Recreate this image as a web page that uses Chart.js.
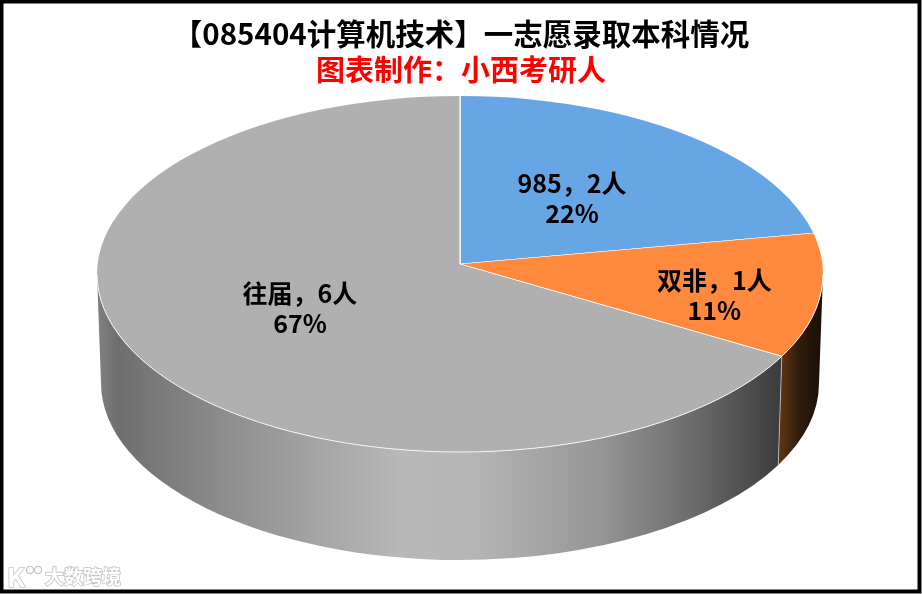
<!DOCTYPE html>
<html>
<head>
<meta charset="utf-8">
<style>
  html, body { margin: 0; padding: 0; background: #fff; }
  #wrap { position: relative; width: 922px; height: 594px; }
</style>
</head>
<body>
<div id="wrap"><canvas id="chart" width="922" height="594"></canvas></div>
<script src="https://cdn.jsdelivr.net/npm/chart.js@4/dist/chart.umd.min.js"></script>
<script>
const categories = ['985', '双非', '往届'];
const people = [2, 1, 6];
const sliceColors = ['#66a6e5', '#ff893d', '#b0b0b0'];
const titleText = '【085404计算机技术】一志愿录取本科情况';
const subtitleText = '图表制作：小西考研人';
const watermarkText = '大数跨境';

// place of each label along its slice's middle ray
const labelFractionX = [0.415, 0.615, 0.44];
const labelFractionY = [0.41, 0.86, 0.43];

// geometry of the tilted pie, px
const apex = { x: 460, y: 264 };
const topFace = { x: 460, y: 274, rx: 363, ry: 178 };
const bottomFace = { x: 460, y: 383, rx: 359, ry: 177 };
const outerRx = 420;
const tilt = 0.497;

// side wall shading, left to right
const wallStops = [
  null,
  [[781, '#5a3312'], [800, '#2e1b0b'], [822, '#1a0f06']],
  [[98, '#808080'], [118, '#6e6e6e'], [250, '#949494'], [400, '#b8b8b8'], [470, '#b6b6b6'], [600, '#969696'], [700, '#686868'], [780, '#3c3c3c']]
];

function rayToFace(angle) {
  const dx = Math.cos(angle);
  const dy = Math.sin(angle) * tilt;
  const ox = (apex.x - topFace.x) / topFace.rx;
  const oy = (apex.y - topFace.y) / topFace.ry;
  const ux = dx / topFace.rx;
  const uy = dy / topFace.ry;
  const a = ux * ux + uy * uy;
  const b = 2 * (ox * ux + oy * uy);
  const c = ox * ox + oy * oy - 1;
  const k = (-b + Math.sqrt(b * b - 4 * a * c)) / (2 * a);
  return Math.atan2(oy + k * uy, ox + k * ux);
}

const pie3d = {
  id: 'pie3d',
  beforeDraw(chart) {
    const ctx = chart.ctx;
    ctx.save();
    ctx.strokeStyle = '#000';
    ctx.lineWidth = 4;
    ctx.strokeRect(1.5, 1.5, 918, 590);
    ctx.restore();
  },
  beforeDatasetsDraw(chart) {
    const ctx = chart.ctx;
    const arcs = chart.getDatasetMeta(0).data;

    // side walls, only the front half of the rim shows
    arcs.forEach((arc, i) => {
      if (!wallStops[i]) return;
      const t0raw = rayToFace(arc.startAngle);
      let t1raw = rayToFace(arc.endAngle);
      if (t1raw <= t0raw) t1raw += Math.PI * 2;
      const t0 = Math.max(t0raw, 0);
      const t1 = Math.min(t1raw, Math.PI);
      if (t1 <= t0) return;
      const grad = ctx.createLinearGradient(98, 0, 823, 0);
      wallStops[i].forEach(s => grad.addColorStop((s[0] - 98) / 725, s[1]));
      ctx.save();
      ctx.beginPath();
      ctx.ellipse(topFace.x, topFace.y, topFace.rx, topFace.ry, 0, t0, t1);
      ctx.ellipse(bottomFace.x, bottomFace.y, bottomFace.rx, bottomFace.ry, 0, t1, t0, true);
      ctx.closePath();
      ctx.fillStyle = grad;
      ctx.fill();
      ctx.strokeStyle = 'rgba(225,225,225,0.8)';
      ctx.lineWidth = 0.8;
      ctx.beginPath();
      ctx.moveTo(topFace.x + topFace.rx * Math.cos(t0), topFace.y + topFace.ry * Math.sin(t0));
      ctx.lineTo(bottomFace.x + bottomFace.rx * Math.cos(t0), bottomFace.y + bottomFace.ry * Math.sin(t0));
      if (i === 2) ctx.stroke();
      ctx.restore();
    });

    // top face: the library's arcs squashed and cut to the rim
    const first = arcs[0];
    const s = outerRx / first.outerRadius;
    ctx.save();
    ctx.beginPath();
    ctx.ellipse(topFace.x, topFace.y, topFace.rx, topFace.ry, 0, 0, Math.PI * 2);
    ctx.clip();
    ctx.translate(apex.x, apex.y);
    ctx.scale(s, s * tilt);
    ctx.translate(-first.x, -first.y);
  },
  afterDatasetsDraw(chart) {
    const ctx = chart.ctx;
    ctx.restore();

    ctx.save();
    ctx.strokeStyle = '#f4f4f4';
    ctx.lineWidth = 1;
    ctx.beginPath();
    ctx.ellipse(topFace.x, topFace.y, topFace.rx, topFace.ry, 0, 0, Math.PI);
    ctx.stroke();
    ctx.restore();

    const total = people.reduce((sum, v) => sum + v, 0);
    const arcs = chart.getDatasetMeta(0).data;
    ctx.save();
    ctx.fillStyle = '#000';
    ctx.textAlign = 'center';
    ctx.textBaseline = 'middle';
    ctx.font = 'bold 25px "Noto Sans CJK SC"';
    arcs.forEach((arc, i) => {
      const mid = (arc.startAngle + arc.endAngle) / 2;
      const x = apex.x + Math.cos(mid) * outerRx * labelFractionX[i];
      const y = apex.y + Math.sin(mid) * outerRx * tilt * labelFractionY[i];
      ctx.fillText(`${categories[i]}，${people[i]}人`, x, y - 15);
      ctx.fillText(`${Math.round(people[i] / total * 100)}%`, x, y + 15);
    });
    ctx.restore();
  },
  afterDraw(chart) {
    // faint watermark, bottom left
    const ctx = chart.ctx;
    ctx.save();
    ctx.textBaseline = 'middle';
    ctx.lineWidth = 1.6;
    ctx.strokeStyle = '#c4c4c4';
    ctx.fillStyle = '#fff';
    ctx.font = 'bold 19px "Noto Sans CJK SC"';
    ctx.strokeText(watermarkText, 45, 577);
    ctx.fillText(watermarkText, 45, 577);
    ctx.font = 'bold 26px "Noto Sans CJK SC"';
    ctx.strokeText('K', 7, 577);
    ctx.fillText('K', 7, 577);
    ctx.lineWidth = 1.3;
    ctx.beginPath();
    ctx.arc(30, 570, 3.6, 0, Math.PI * 2);
    ctx.moveTo(41.6, 570);
    ctx.arc(38, 570, 3.6, 0, Math.PI * 2);
    ctx.stroke();
    ctx.restore();
  }
};

new Chart(document.getElementById('chart'), {
  type: 'pie',
  data: {
    labels: categories,
    datasets: [{
      data: people,
      backgroundColor: sliceColors,
      borderColor: '#ffffff',
      borderWidth: 0.7,
      clip: false
    }]
  },
  options: {
    responsive: false,
    animation: false,
    layout: { padding: 0 },
    plugins: {
      legend: { display: false },
      tooltip: { enabled: false },
      title: {
        display: true,
        text: titleText,
        color: '#000',
        font: { family: '"Noto Sans CJK SC"', size: 29.5, weight: 'bold' },
        padding: { top: 16, bottom: 0 }
      },
      subtitle: {
        display: true,
        text: subtitleText,
        color: '#ff0000',
        font: { family: '"Noto Sans CJK SC"', size: 29, weight: 'bold' },
        padding: { top: 1, bottom: 8 }
      }
    }
  },
  plugins: [pie3d]
});
</script>
</body>
</html>
